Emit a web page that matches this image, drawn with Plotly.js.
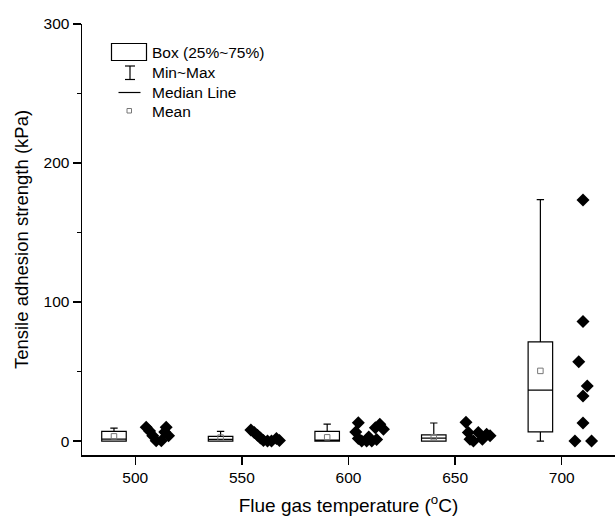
<!DOCTYPE html>
<html>
<head>
<meta charset="utf-8">
<script src="https://cdn.plot.ly/plotly-3.0.1.min.js"></script>
<style>html,body{margin:0;padding:0;background:#fff;}#chart{width:615px;height:516px;}</style>
</head>
<body>
<div id="chart"></div>
<script>
// Box statistics per temperature group
const temps = [500, 550, 600, 650, 700];
const boxX = [490, 540, 590, 640, 690];
const q1V = [0, 0, 0, 0, 6.7];
const medianV = [1.4, 1.2, 0.3, 2.2, 36.6];
const q3V = [7, 3.4, 7, 4.5, 71.3];
const minV = [0, 0, 0, 0, 0];
const maxV = [9.3, 7, 12.2, 13, 173.7];
const meanV = [3.4, 2.5, 2.7, 2.8, 50.5];

// Individual measurements (x = jittered plotting position, y = kPa)
const pts500X = [505.1, 506.7, 508.2, 509.8, 512.2, 514.5, 515.6, 513.8];
const pts500Y = [10, 7.2, 3.8, 0.3, 0.3, 10, 3.8, 6.6];
const pts550X = [554.2, 555.8, 557.3, 558.7, 560.1, 562.0, 563.9, 566.2, 567.6];
const pts550Y = [8, 6.2, 4.2, 2.2, 0.5, 0, 0, 1.8, 0.5];
const pts600X = [604.6, 603.4, 604.6, 606.2, 608.5, 610.9, 613.2, 614.7, 612.6, 616.4, 609.5];
const pts600Y = [13.2, 6.5, 1.8, 0, 0, 0, 1.2, 12.2, 9.6, 8.6, 3];
const pts650X = [655.1, 656.2, 657.0, 658.6, 660.9, 662.8, 664.8, 666.4];
const pts650Y = [13.5, 6.2, 1.4, 0, 6.2, 1.4, 5, 3.8];
const pts700X = [710, 710, 708, 712, 710, 710, 706.2, 714];
const pts700Y = [173.5, 86.1, 57, 39.7, 32.5, 13.1, 0, 0];

const ptX = [].concat(pts500X, pts550X, pts600X, pts650X, pts700X);
const ptY = [].concat(pts500Y, pts550Y, pts600Y, pts650Y, pts700Y);

const FONT = 'Arial, "Liberation Sans", sans-serif';

const traces = [
  {
    type: 'box',
    x: boxX,
    q1: q1V, median: medianV, q3: q3V,
    lowerfence: minV, upperfence: maxV,
    width: 11.5,
    whiskerwidth: 0.3,
    fillcolor: 'rgba(255,255,255,1)',
    line: {color: '#000', width: 1.2},
    boxpoints: false,
    hoverinfo: 'skip',
    showlegend: false
  },
  {
    type: 'scatter', mode: 'markers',
    x: boxX, y: meanV,
    marker: {symbol: 'square-open', size: 5.5, color: '#777', line: {width: 1}},
    showlegend: false, hoverinfo: 'skip'
  },
  {
    type: 'scatter', mode: 'markers',
    x: ptX, y: ptY,
    marker: {symbol: 'diamond', size: 10, color: '#000'},
    showlegend: false, hoverinfo: 'skip'
  }
];

// Legend drawn in paper coordinates
const lx = (px) => (px - 82) / 533;
const ly = (py) => (455 - py) / 431;
const shapes = [
  {type: 'rect', xref: 'paper', yref: 'paper', x0: lx(111.5), x1: lx(146.5), y0: ly(60.5), y1: ly(43.5), line: {color: '#000', width: 1.2}},
  {type: 'line', xref: 'paper', yref: 'paper', x0: lx(130), x1: lx(130), y0: ly(79.5), y1: ly(66), line: {color: '#000', width: 1.2}},
  {type: 'line', xref: 'paper', yref: 'paper', x0: lx(125), x1: lx(135), y0: ly(66), y1: ly(66), line: {color: '#000', width: 1.2}},
  {type: 'line', xref: 'paper', yref: 'paper', x0: lx(125), x1: lx(135), y0: ly(79.5), y1: ly(79.5), line: {color: '#000', width: 1.2}},
  {type: 'line', xref: 'paper', yref: 'paper', x0: lx(118.5), x1: lx(140.5), y0: ly(92.5), y1: ly(92.5), line: {color: '#000', width: 1.2}},
  {type: 'rect', xref: 'paper', yref: 'paper', x0: lx(127), x1: lx(131.5), y0: ly(113), y1: ly(108.5), line: {color: '#777', width: 1}}
];
const legText = ['Box (25%~75%)', 'Min~Max', 'Median Line', 'Mean'];
const legY = [52.5, 72.5, 92.5, 111];
const annotations = legText.map((t, i) => ({
  xref: 'paper', yref: 'paper', x: lx(150), y: ly(legY[i]),
  xanchor: 'left', yanchor: 'middle', text: t, showarrow: false,
  font: {family: FONT, size: 15.5, color: '#000'}
}));

const layout = {
  width: 615, height: 516,
  margin: {l: 82, r: 0, t: 24, b: 61},
  paper_bgcolor: '#fff', plot_bgcolor: '#fff',
  font: {family: FONT, color: '#000'},
  showlegend: false,
  xaxis: {
    range: [475, 725],
    tickvals: temps,
    ticktext: temps.map(String),
    ticks: 'outside', ticklen: 8, tickwidth: 1.5, tickcolor: '#000',
    showline: true, linecolor: '#000', linewidth: 1.5,
    showgrid: false, zeroline: false,
    tickfont: {family: FONT, size: 15.5, color: '#000'},
    title: {text: 'Flue gas temperature (<sup>o</sup>C)', font: {family: FONT, size: 19, color: '#000'}, standoff: 14}
  },
  yaxis: {
    range: [-10, 300],
    tickvals: [0, 100, 200, 300],
    ticks: 'outside', ticklen: 8, tickwidth: 1.5, tickcolor: '#000',
    minor: {dtick: 50, ticks: 'outside', ticklen: 4, tickwidth: 1, tickcolor: '#000'},
    showline: true, linecolor: '#000', linewidth: 1.5,
    showgrid: false, zeroline: false,
    tickfont: {family: FONT, size: 15.5, color: '#000'},
    title: {text: 'Tensile adhesion strength (kPa)', font: {family: FONT, size: 18.5, color: '#000'}, standoff: 10}
  },
  shapes: shapes,
  annotations: annotations
};

Plotly.newPlot('chart', traces, layout, {staticPlot: true, displayModeBar: false});
</script>
</body>
</html>
